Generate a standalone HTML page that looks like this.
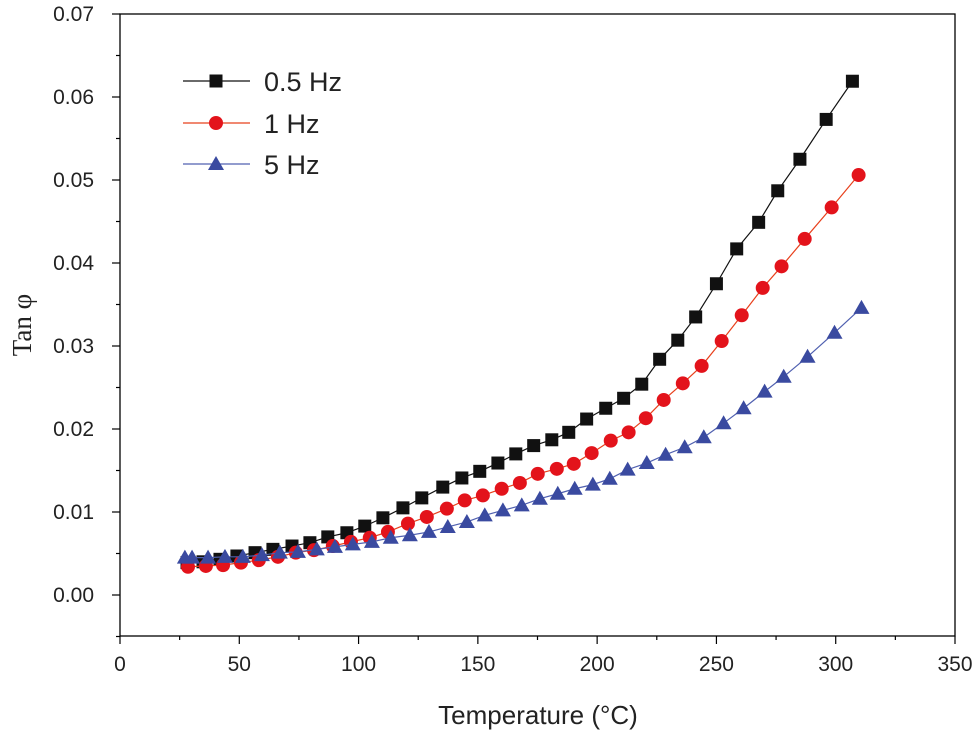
<!DOCTYPE html>
<html><head><meta charset="utf-8"><style>
body{margin:0;background:#fff;}
svg{display:block;font-family:"Liberation Sans",sans-serif;}
</style></head><body>
<svg id="chart" width="980" height="740">
<g id="axes"></g>
<g id="series"></g>
<g id="legend"></g>
</svg>
<script>
const xTicks=[0,50,100,150,200,250,300,350];
const yTicks=[0,0.01,0.02,0.03,0.04,0.05,0.06,0.07];
const yTickLabels=["0.00","0.01","0.02","0.03","0.04","0.05","0.06","0.07"];
const seriesNames=["0.5 Hz","1 Hz","5 Hz"];
const t05=[28.1,34.8,41.9,49,56.6,64.1,72.1,79.6,87.1,95.1,102.6,110.2,118.6,126.5,135.3,143.3,150.8,158.4,165.9,173.4,181,188.1,195.6,203.6,211.1,218.7,226.2,233.8,241.3,250,258.5,267.7,275.7,285,296,307];
const v05=[.0039,.0040,.0043,.0047,.0051,.0055,.0059,.0063,.0070,.0075,.0083,.0093,.0105,.0117,.0130,.0141,.0149,.0159,.0170,.0180,.0187,.0196,.0212,.0225,.0237,.0254,.0284,.0307,.0335,.0375,.0417,.0449,.0487,.0525,.0573,.0619];
const t1=[28.5,36,43.2,50.7,58.2,66.2,73.7,81.3,89.2,96.8,104.7,112.3,120.7,128.6,137,144.5,152.1,160,167.6,175.1,183.1,190.2,197.7,205.7,213.2,220.4,227.9,235.9,243.8,252.2,260.6,269.4,277.3,287,298.3,309.6];
const v1=[.0034,.0035,.0036,.0039,.0042,.0046,.0051,.0054,.0059,.0064,.0069,.0076,.0086,.0094,.0104,.0114,.0120,.0128,.0135,.0146,.0152,.0158,.0171,.0186,.0196,.0213,.0235,.0255,.0276,.0306,.0337,.0370,.0396,.0429,.0467,.0506];
const t5=[27.2,30.2,36.9,44,51.5,59.5,67,74.6,82.5,90.1,97.6,105.6,113.5,121.5,129.5,137.4,145.4,152.9,160.5,168.4,176,183.5,190.6,198.2,205.3,212.8,220.8,228.7,236.7,244.7,253,261.4,270.2,278.2,288.2,299.5,310.8];
const v5=[.0045,.0045,.0045,.0046,.0046,.0048,.0051,.0052,.0055,.0058,.0061,.0064,.0069,.0072,.0076,.0082,.0088,.0096,.0102,.0108,.0116,.0122,.0128,.0133,.0140,.0151,.0159,.0169,.0178,.0190,.0207,.0225,.0245,.0263,.0287,.0316,.0346];

const NS="http://www.w3.org/2000/svg";
const L=120,R=955,T=14,B=636;
const xs=v=>L+(v-0)*(R-L)/350;
const ys=v=>595-v*8300;
function mk(tag,attrs,parent){const e=document.createElementNS(NS,tag);for(const k in attrs)e.setAttribute(k,attrs[k]);parent.appendChild(e);return e;}
const ax=document.getElementById('axes');
const frame=mk('rect',{x:L,y:T,width:R-L,height:B-T,fill:'none',stroke:'#000','stroke-width':1.3},ax);


for(let v=0;v<=350;v+=25){
  const major=v%50===0;const x=xs(v);
  const tk=mk('line',{x1:x,x2:x,y1:B,y2:B+(major?8:4),stroke:'#000','stroke-width':1.2},ax);
  
  
}
xTicks.forEach(v=>{
  const t=mk('text',{x:xs(v),y:B+35,'text-anchor':'middle','font-size':21,fill:'#222'},ax);t.textContent=v;
  
  
});
for(let i=-1;i<=14;i++){
  const v=i*0.005;const y=ys(v);const major=i%2===0;
  const tk=mk('line',{x1:L,x2:L-(major?8:4),y1:y,y2:y,stroke:'#000','stroke-width':1.2},ax);
  
  
}
yTicks.forEach((v,i)=>{
  const t=mk('text',{x:94,y:ys(v)+7,'text-anchor':'end','font-size':21,fill:'#222'},ax);t.textContent=yTickLabels[i];
  
  
});
const xt=mk('text',{x:538,y:724,'text-anchor':'middle','font-size':26,fill:'#222'},ax);xt.textContent='Temperature (°C)';


const yt=mk('text',{x:0,y:0,'text-anchor':'middle','font-size':27,fill:'#222','font-family':'Liberation Serif, serif',transform:'translate(31,325) rotate(-90)'},ax);yt.textContent='Tan φ';



const sg=document.getElementById('series');
function marker(type,x,y,color,parent){
  let e;
  if(type==='sq')e=mk('rect',{x:x-6.5,y:y-6.5,width:13,height:13,fill:color},parent);
  else if(type==='ci')e=mk('circle',{cx:x,cy:y,r:7,fill:color},parent);
  else e=mk('polygon',{points:`${x},${y-8} ${x-8},${y+6} ${x+8},${y+6}`,fill:color},parent);
  return e;
}
const defs=[[t05,v05,'#111','#111','sq','series-0-5hz'],[t1,v1,'#e3131b','#e8401c','ci','series-1hz'],[t5,v5,'#3a4aa0','#5060b0','tr','series-5hz']];
defs.forEach(([tx,vy,col,lc,mt,name])=>{
  const g=mk('g',{},sg);
  
  
  const pl=mk('polyline',{points:tx.map((t,i)=>xs(t)+','+ys(vy[i])).join(' '),fill:'none',stroke:lc,'stroke-width':1.2},g);
  
  
  tx.forEach((t,i)=>{
    const m=marker(mt,xs(t),ys(vy[i]),col,g);
    
    
  });
});
const lg=document.getElementById('legend');
const lys=[81,123,164];
defs.forEach(([tx,vy,col,lc,mt,name],i)=>{
  const g=mk('g',{},lg);
  
  
  mk('line',{x1:183,x2:250,y1:lys[i],y2:lys[i],stroke:lc,'stroke-width':1.2},g);
  marker(mt,216,lys[i],col,g);
  const t=mk('text',{x:264,y:lys[i]+10,'font-size':27,fill:'#222'},g);t.textContent=seriesNames[i];
});
</script>
</body></html>
